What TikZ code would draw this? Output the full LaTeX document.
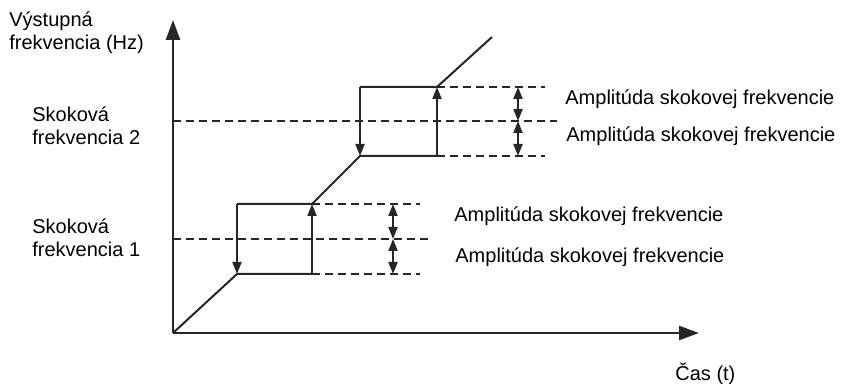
\documentclass[tikz,border=0pt]{standalone}
\usepackage{fontspec}
\setmainfont{Liberation Sans}
\usetikzlibrary{arrows.meta}
\definecolor{plotline}{HTML}{262626}

\begin{document}
\begin{tikzpicture}[x=0.5pt, y=-0.5pt,
  axisline/.style={draw=plotline, line width=1.3pt, -{Triangle[length=10pt, width=7pt]}},
  curveline/.style={draw=plotline, line width=1pt},
  jumparrow/.style={curveline, -{Triangle[length=6pt, width=4.5pt]}},
  levelline/.style={draw=plotline, line width=1pt, dash pattern=on 4pt off 2.5pt},
  bandarrow/.style={curveline, {Triangle[length=6pt, width=4.5pt]}-{Triangle[length=6pt, width=4.5pt]}},
  plotlabel/.style={font=\fontsize{10}{11.5}\selectfont, inner sep=0pt, align=left, anchor=base west}]

  \useasboundingbox (0, 0) rectangle (841, 384);

  % Key points
  \coordinate (origin) at (173, 333);
  \coordinate (ytip) at (173, 20);
  \coordinate (xtip) at (699, 333);
  % Jump band 1
  \coordinate (lowA) at (237, 274);
  \coordinate (lowB) at (237, 204);
  \coordinate (lowC) at (312, 204);
  \coordinate (lowD) at (312, 274);
  % Jump band 2
  \coordinate (highA) at (360, 156);
  \coordinate (highB) at (360, 87);
  \coordinate (highC) at (437, 87);
  \coordinate (highD) at (437, 156);
  \coordinate (curveend) at (492, 37);

  % Axes
  \draw[axisline] (origin) -- (ytip);
  \draw[axisline] (origin) -- (xtip);

  % Level lines
  \coordinate (mid1start) at (173, 239);
  \coordinate (mid1end) at (432, 239);
  \coordinate (top1end) at (420, 204);
  \coordinate (bot1end) at (420, 274);
  \coordinate (mid2start) at (173, 121);
  \coordinate (mid2end) at (557, 121);
  \coordinate (top2end) at (545, 87);
  \coordinate (bot2end) at (545, 156);
  \draw[levelline] (mid1start) -- (mid1end);
  \draw[levelline] (lowC) -- (top1end);
  \draw[levelline] (lowD) -- (bot1end);
  \draw[levelline] (mid2start) -- (mid2end);
  \draw[levelline] (highC) -- (top2end);
  \draw[levelline] (highD) -- (bot2end);

  % Output frequency curve
  \draw[curveline] (origin) -- (lowA) -- (lowD);
  \draw[curveline] (lowB) -- (lowC) -- (highA) -- (highD);
  \draw[curveline] (highB) -- (highC) -- (curveend);
  \draw[jumparrow] (lowD) -- (lowC);
  \draw[jumparrow] (lowB) -- (lowA);
  \draw[jumparrow] (highD) -- (highC);
  \draw[jumparrow] (highB) -- (highA);

  % Band width arrows
  \coordinate (band1top) at (393, 204);
  \coordinate (band1mid) at (393, 239);
  \coordinate (band1bot) at (393, 274);
  \coordinate (band2top) at (518, 87);
  \coordinate (band2mid) at (518, 121);
  \coordinate (band2bot) at (518, 156);
  \draw[bandarrow] (band1top) -- (band1mid);
  \draw[bandarrow] (band1mid) -- (band1bot);
  \draw[bandarrow] (band2top) -- (band2mid);
  \draw[bandarrow] (band2mid) -- (band2bot);

  % Labels
  \node[plotlabel] (ylabel) at (9, 50) {Výstupná\\frekvencia (Hz)};
  \node[plotlabel] (xlabel) at (675, 381) {Čas (t)};
  \node[plotlabel] (skip2) at (32, 145) {Skoková\\frekvencia 2};
  \node[plotlabel] (skip1) at (32, 257) {Skoková\\frekvencia 1};
  \node[plotlabel] (amp2up) at (565, 105) {Amplitúda skokovej frekvencie};
  \node[plotlabel] (amp2down) at (566, 142) {Amplitúda skokovej frekvencie};
  \node[plotlabel] (amp1up) at (454, 222) {Amplitúda skokovej frekvencie};
  \node[plotlabel] (amp1down) at (455, 263) {Amplitúda skokovej frekvencie};

\end{tikzpicture}
\end{document}
